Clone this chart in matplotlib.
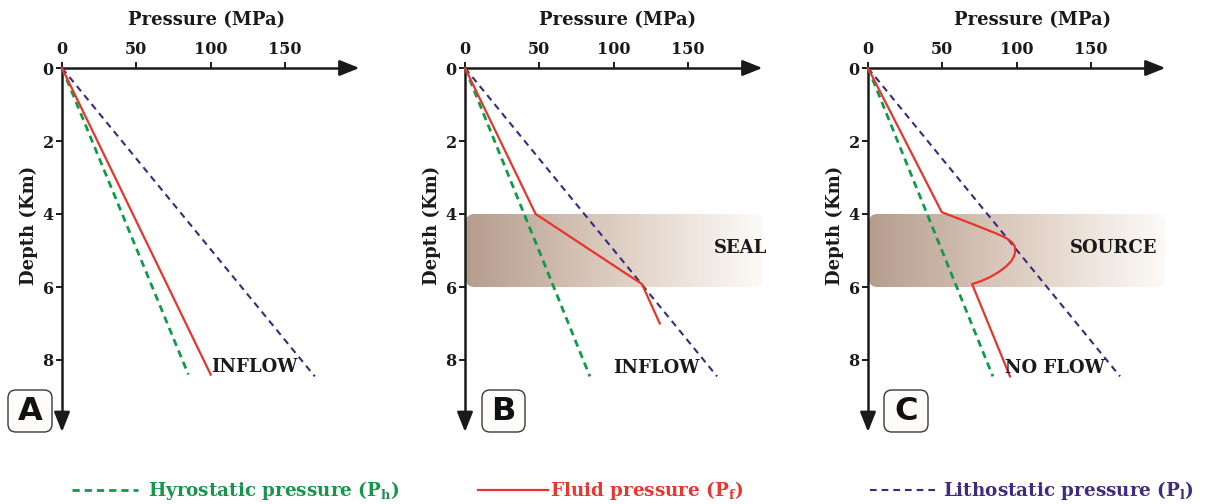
import matplotlib
matplotlib.use('Agg')
import matplotlib.pyplot as plt
import numpy as np
from matplotlib.patches import FancyBboxPatch
from matplotlib.lines import Line2D
from matplotlib.colors import LinearSegmentedColormap

plt.rcParams['font.family'] = ['DejaVu Serif']
plt.rcParams['font.weight'] = 'bold'
plt.rcParams['mathtext.fontset'] = 'dejavuserif'

W, H = 1207, 504

# ---- data (pressure in MPa, depth in km) ----
panels = ['A', 'B', 'C']
pressure_ticks = [0, 50, 100, 150]
depth_ticks = [0, 2, 4, 6, 8]

hydro_p = [[0, 85], [0, 84], [0, 84]]
hydro_d = [[0, 8.4], [0, 8.45], [0, 8.45]]

litho_p = [[0, 170], [0, 169.5], [0, 169.5]]
litho_d = [[0, 8.45], [0, 8.45], [0, 8.45]]

fluid_p = [
    [0, 100],
    [0, 47.5, 119, 131],
    [0, 49.6, 70, 86, 93, 97, 98.8, 99, 98.3, 96.2, 92.5, 87.5, 82, 76, 70, 95.5],
]
fluid_d = [
    [0, 8.4],
    [0, 4.0, 5.92, 7.0],
    [0, 3.95, 4.27, 4.53, 4.66, 4.78, 4.9, 5.02, 5.15, 5.3, 5.45, 5.6, 5.73, 5.84, 5.92, 8.45],
]

zone_names = [None, 'SEAL', 'SOURCE']
zone_top, zone_bottom = 4.0, 6.0
zone_left, zone_right = 0.7, 200

flow_labels = ['INFLOW', 'INFLOW', 'NO FLOW']
flow_x = [100, 99.5, 92]
flow_y = [8.18, 8.22, 8.22]

# ---- layout (pixels of the reference) ----
origin_px = [62, 465, 868]
oy = 68
sx = 1.487   # px per MPa
sy = 36.5    # px per km
xlim = (-40, 215)
ylim = (10.5, -1.8)
title_x = [97, 102.5, 111]
zone_text_x = [None, 185, 165]
box_px = [(8, 52), (482, 525), (884, 928)]

green = '#0f9b48'
red = '#e8352b'
purple = '#3a2a7f'
ink = '#1a1a1a'
green_ls = (0, (2.6, 1.8))
purple_ls = (0, (3.2, 2.4))

band_cmap = LinearSegmentedColormap.from_list(
    'band', ['#b69d8e', '#c9b5a7', '#ddcdc1', '#eee5dd', '#fcfaf8'])

fig = plt.figure(figsize=(W / 100, H / 100), dpi=100)

for i, name in enumerate(panels):
    ox = origin_px[i]
    left = ox + xlim[0] * sx
    width = (xlim[1] - xlim[0]) * sx
    top = oy + ylim[1] * sy
    bottom = oy + ylim[0] * sy
    ax = fig.add_axes([left / W, 1 - bottom / H, width / W, (bottom - top) / H])
    ax.patch.set_alpha(0)

    # shaded zone
    if zone_names[i]:
        grad = np.linspace(0, 1, 256).reshape(1, -1)
        im = ax.imshow(grad, cmap=band_cmap, aspect='auto',
                       extent=(zone_left, zone_right, zone_bottom, zone_top), zorder=1)
        clip = FancyBboxPatch((zone_left, zone_top), zone_right - zone_left,
                              zone_bottom - zone_top,
                              boxstyle='round,pad=0,rounding_size=5.5',
                              mutation_aspect=sx / sy,
                              fc='none', ec='none')
        ax.add_patch(clip)
        im.set_clip_path(clip)
        ax.text(zone_text_x[i], 4.93, zone_names[i], ha='center', va='center',
                fontsize=13, color=ink, zorder=5)

    ax.plot(hydro_p[i], hydro_d[i], color=green, lw=2.0, ls=green_ls, zorder=3)
    ax.plot(litho_p[i], litho_d[i], color=purple, lw=1.5, ls=purple_ls, zorder=3)
    ax.plot(fluid_p[i], fluid_d[i], color=red, lw=1.6, zorder=4,
            solid_joinstyle='round')

    ax.text(flow_x[i], flow_y[i], flow_labels[i], ha='left', va='center',
            fontsize=13, color=ink, zorder=5)

    ax.set_xlim(xlim)
    ax.set_ylim(ylim)

    for s in ['right', 'bottom']:
        ax.spines[s].set_visible(False)
    ax.spines['top'].set_position(('data', 0))
    ax.spines['left'].set_position(('data', 0))
    ax.spines['top'].set_bounds(0, 192)
    ax.spines['left'].set_bounds(0, 9.7)
    for s in ['top', 'left']:
        ax.spines[s].set_linewidth(1.8)
        ax.spines[s].set_color(ink)

    ax.xaxis.set_ticks_position('top')
    ax.set_xticks(pressure_ticks)
    ax.set_yticks(depth_ticks)
    ax.tick_params(axis='both', length=4, width=1.4, color=ink, labelsize=11.5,
                   labelcolor=ink)
    ax.tick_params(axis='x', pad=3)
    ax.tick_params(axis='y', pad=2)

    arrow = dict(arrowstyle='-|>,head_length=0.75,head_width=0.3', color=ink,
                 lw=1.8, shrinkA=0, shrinkB=0, mutation_scale=16)
    ax.annotate('', xy=(200, 0), xytext=(188, 0), arrowprops=arrow,
                annotation_clip=False)
    ax.annotate('', xy=(0, 9.97), xytext=(0, 9.5), arrowprops=arrow,
                annotation_clip=False)

    ax.text(title_x[i], -1.32, 'Pressure (MPa)', ha='center', va='center',
            fontsize=13, color=ink)
    ax.text(-22, 4.3, 'Depth (Km)', rotation=90, ha='center', va='center',
            fontsize=13, color=ink)

    # panel letter box
    x0, x1 = box_px[i]
    y0, y1 = 390, 432
    fig.add_artist(FancyBboxPatch((x0 / W, 1 - y1 / H), (x1 - x0) / W, (y1 - y0) / H,
                                  boxstyle='round,pad=0,rounding_size=%f' % (8 / W),
                                  mutation_aspect=W / H, transform=fig.transFigure,
                                  fc='#fdfcfa', ec='#3a3a3a', lw=1.0))
    fig.text((x0 + x1) / 2 / W, 1 - 411 / H, name, ha='center', va='center',
             fontsize=23, family='DejaVu Sans', weight='bold', color='#111111')

# legend along the bottom
ly = 1 - 490 / H
legend_items = [
    ((72, 138), green, green_ls, 2.0, 148, r'Hyrostatic pressure (P$_\mathbf{h}$)', '#17964a'),
    ((478, 548), red, '-', 1.6, 550, r'Fluid pressure (P$_\mathbf{f}$)', '#e8372d'),
    ((870, 940), purple, purple_ls, 1.5, 943, r'Lithostatic pressure (P$_\mathbf{l}$)', '#3f2b7f'),
]
for (a, b), c, ls, lw, tx, label, tc in legend_items:
    fig.add_artist(Line2D([a / W, b / W], [ly, ly], transform=fig.transFigure,
                          color=c, ls=ls, lw=lw))
    fig.text(tx / W, ly, label, ha='left', va='center', fontsize=13.2, color=tc)

fig.savefig('out.png', dpi=100)
